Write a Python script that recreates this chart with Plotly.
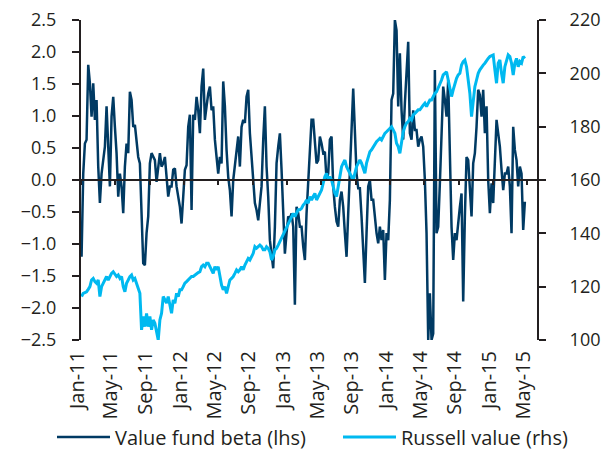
import pandas as pd
import plotly.graph_objects as go

# Value fund beta (lhs), four segments across time
beta_2011 = [-1.20, 0.10, 0.57, 0.63, 1.80, 1.51, 0.99, 1.51, 0.94, 1.25,
             0.21, -0.36, 0.10, 0.31, 0.52, 1.15, 0.63, -0.10, 0.99, 1.30,
             0.83, 0.42, -0.26, 0.10, -0.10, -0.52, 0.21, 0.57, 0.42, 1.38,
             1.25, 0.83, 0.86, 0.63, 0.36, 0.26, -0.63, -1.30, -1.33, -0.83,
             -0.57, 0.26, 0.42, 0.36, 0.31, -0.03, 0.16, 0.42, 0.21, 0.26,
             0.36, 0.05, -0.26, -0.10, -0.10, 0.16, 0.18, -0.10, -0.26, -0.42,
             -0.68, -0.31, 0.16, 0.23, 0.83, 1.02, -0.47, 1.02, 0.94, 1.30,
             1.09, 0.73]
beta_2012 = [1.46, 1.74, 0.94, 1.15, 1.35, 1.46, 1.09, 1.15, 0.63, 0.36,
             0.10, 0.36, 0.26, 1.54, 1.15, 0.47, 0.05, -0.16, -0.57, 0.00,
             0.26, 0.42, 0.68, 0.21, 0.83, 0.94, 0.89, 1.30, 1.41, 0.73,
             0.36, 0.00, -0.36, -0.47, -0.63, -0.36, -0.10, 0.63, 1.15, 0.21,
             -0.26, -0.94, -1.15, -1.38, -0.73, 0.26, 0.52, 0.73, 0.16, -0.42,
             -1.15, -0.83, -0.57, -0.60, -0.52, -0.73, -1.95, -0.42, -0.52, -0.73,
             -0.73, -1.04, -1.25, -0.52, 0.00, 0.36, 0.94, 0.94, 0.57, 0.26,
             0.31, 0.68, 0.57, 0.42, 0.44, 0.00, 0.10, 0.63]
beta_2013 = [0.68, -0.10, -0.42, -0.65, -0.73, -0.31, -0.18, -0.42, -0.83, -1.20,
             -0.52, 0.31, 0.78, 1.43, 0.73, 0.10, -0.13, -0.13, -0.57, -1.04,
             -1.61, -0.83, -0.10, 0.00, -0.31, -0.31, -0.63, -0.83, -0.99, -0.73,
             -0.94, -0.78, -1.56, -0.83, -0.94, -0.31, 1.25, 1.35, 2.50, 2.34,
             1.15, 1.98, 1.09, 0.63, 1.20, 1.67, 2.16, 0.73, 0.63, 1.09,
             0.78, 0.78, 0.52, 0.63, 0.68, 0.52, 0.00, -0.83, -2.50, -1.77,
             -2.50, -2.40, 1.72, -0.83, -0.73, -0.05, 0.73, 1.46, 1.25, 0.99,
             1.56, 0.21, -0.73, -1.25, -0.83, -0.94, -0.63, -0.42]
beta_2014 = [-0.21, -1.90, -0.57, 0.36, 0.31, -0.16, -0.57, 0.26, 0.42, 0.83,
             1.41, 1.33, 0.99, 1.41, 0.73, 1.15, 0.00, -0.52, -0.05, -0.36,
             0.21, 0.94, 0.73, 0.52, 0.16, -0.16, 0.10, 0.10, 0.21, -0.10,
             -0.83, 0.83, 0.47, 0.31, -0.10, 0.21, 0.10, -0.78, -0.34]

# Russell value (rhs)
russell_2011 = [116.3, 117.5, 117.8, 118.1, 119.0, 120.0, 122.5, 123.1, 121.9, 121.3,
                122.5, 116.3, 120.0, 121.3, 123.1, 123.8, 122.5, 123.8, 125.0, 125.6,
                124.4, 123.8, 124.4, 123.1, 123.8, 120.0, 118.1, 121.3, 122.5, 123.8,
                124.4, 122.5, 123.1, 121.3, 118.8, 117.5, 103.8, 108.8, 105.0, 110.0,
                105.0, 108.8, 103.8, 107.5, 106.3, 102.5, 100.0, 107.5, 110.0, 116.3,
                115.0, 113.8, 116.3, 112.5, 110.0, 115.0, 113.8, 117.5, 116.3, 118.8,
                118.8, 120.0, 121.3, 121.9, 122.5, 123.1, 123.8, 123.8, 124.4, 125.0,
                125.3, 125.6]
russell_2012 = [127.5, 128.1, 127.5, 128.8, 128.8, 127.5, 126.3, 125.0, 127.5, 126.3,
                127.5, 123.8, 120.6, 118.8, 120.0, 117.5, 120.0, 122.5, 123.1, 123.8,
                125.0, 126.3, 125.6, 126.3, 127.5, 126.3, 128.1, 129.4, 130.6, 130.0,
                131.3, 132.5, 135.0, 134.4, 135.0, 135.6, 135.0, 133.8, 133.8, 135.0,
                134.4, 133.1, 130.0, 131.3, 133.8, 134.4, 135.6, 136.9, 138.8, 140.0,
                141.3, 142.5, 143.8, 145.0, 146.3, 147.5, 146.3, 147.5, 148.8, 148.8,
                149.4, 150.6, 151.3, 152.5, 151.3, 153.8, 152.5, 153.8, 155.0, 152.5,
                153.8, 155.0, 156.3, 158.8, 161.3, 162.5, 160.0, 161.3]
russell_2013 = [160.0, 157.5, 155.0, 153.8, 157.5, 162.5, 165.0, 166.3, 167.5, 165.0,
                163.8, 162.5, 161.3, 160.0, 162.5, 165.0, 166.3, 167.5, 166.3, 164.4,
                162.5, 166.3, 168.8, 170.6, 171.3, 172.5, 173.8, 174.4, 175.0, 175.6,
                175.0, 176.3, 177.5, 178.1, 178.8, 179.4, 180.0, 178.8, 177.5, 173.8,
                172.5, 170.0, 175.0, 178.1, 180.0, 181.3, 181.9, 183.1, 182.5, 184.4,
                185.0, 185.6, 186.3, 186.3, 187.5, 188.1, 188.8, 187.5, 188.8, 190.0,
                190.0, 191.3, 192.5, 193.1, 194.4, 195.6, 197.5, 199.4, 200.0, 200.6,
                197.5, 193.8, 191.3, 193.8, 196.3, 198.1, 199.4, 200.0]
russell_2014 = [203.1, 204.4, 205.0, 202.5, 197.5, 192.5, 183.8, 190.0, 195.0, 197.5,
                200.0, 201.3, 202.5, 203.1, 203.8, 205.0, 205.6, 206.3, 206.5, 206.9,
                201.3, 196.3, 203.8, 205.0, 200.0, 196.3, 202.5, 205.0, 206.9, 206.3,
                203.8, 199.4, 203.8, 205.6, 202.5, 204.4, 203.8, 206.3, 205.6]

beta = beta_2011 + beta_2012 + beta_2013 + beta_2014
russell = russell_2011 + russell_2012 + russell_2013 + russell_2014

first_date = "2011-01-03"
last_date = "2015-04-23"
beta_dates = pd.date_range(first_date, last_date, periods=len(beta))
russell_dates = pd.date_range(first_date, last_date, periods=len(russell))

x_range = ["2011-01-01", "2015-06-05"]
series_names = ["Value fund beta (lhs)", "Russell value (rhs)"]

DARK = "#003A63"
LIGHT = "#00B9F0"
INK = "#231F20"
FAMILY = "Open Sans, Lato, sans-serif"
YFONT = dict(family=FAMILY, size=18, color=INK)
XFONT = dict(family=FAMILY, size=20, color=INK)
LFONT = dict(family=FAMILY, size=20, color=INK)

fig = go.Figure()
fig.add_trace(go.Scatter(x=beta_dates, y=beta, mode="lines", name=series_names[0],
                         line=dict(color=DARK, width=2.5), xaxis="x", yaxis="y",
                         legend="legend"))
fig.add_trace(go.Scatter(x=russell_dates, y=russell, mode="lines", name=series_names[1],
                         line=dict(color=LIGHT, width=3), xaxis="x2", yaxis="y2",
                         legend="legend2"))

legend_common = dict(orientation="h", y=-0.303, yanchor="middle", xanchor="left",
                     font=LFONT, bgcolor="rgba(0,0,0,0)", itemwidth=53)

fig.update_layout(
    width=612, height=459,
    margin=dict(l=73, r=83, t=12, b=127, autoexpand=False),
    paper_bgcolor="white", plot_bgcolor="white",
    font=dict(family=FAMILY, size=18, color=INK),
    showlegend=True,
    legend=dict(x=-0.0636, **legend_common),
    legend2=dict(x=0.5636, **legend_common),
    # axis drawn along zero: line plus small downward ticks, no labels
    xaxis=dict(type="date", range=x_range, anchor="free", position=0.5,
               showline=True, linecolor=INK, linewidth=2,
               ticks="outside", ticklen=4, tickwidth=1.5, tickcolor=INK,
               tick0="2011-01-01", dtick="M4", showticklabels=False,
               showgrid=False, zeroline=False, automargin=False),
    # bottom label axis
    xaxis2=dict(type="date", range=x_range, overlaying="x", anchor="y", side="bottom",
                showline=False, ticks="", tick0="2011-01-01", dtick="M4",
                tickformat="%b-%y", tickangle=-90, showgrid=False, zeroline=False,
                ticklabelstandoff=6, ticklabelshift=-4, tickfont=XFONT,
                automargin=False, ticklabeloverflow="allow"),
    yaxis=dict(range=[-2.5, 2.5], dtick=0.5, tickformat=".1f", anchor="x",
               showline=True, linecolor=INK, linewidth=2,
               ticks="outside", ticklen=7, tickwidth=2, tickcolor=INK,
               showgrid=False, zeroline=False, ticklabelstandoff=12,
               tickfont=YFONT, automargin=False, ticklabeloverflow="allow"),
    yaxis2=dict(range=[100, 220], dtick=20, overlaying="y", side="right", anchor="x2",
                showline=True, linecolor=INK, linewidth=2,
                ticks="outside", ticklen=7, tickwidth=2, tickcolor=INK,
                showgrid=False, zeroline=False, ticklabelstandoff=20,
                tickfont=YFONT, automargin=False, ticklabeloverflow="allow"),
)

fig.write_html("out.html")
